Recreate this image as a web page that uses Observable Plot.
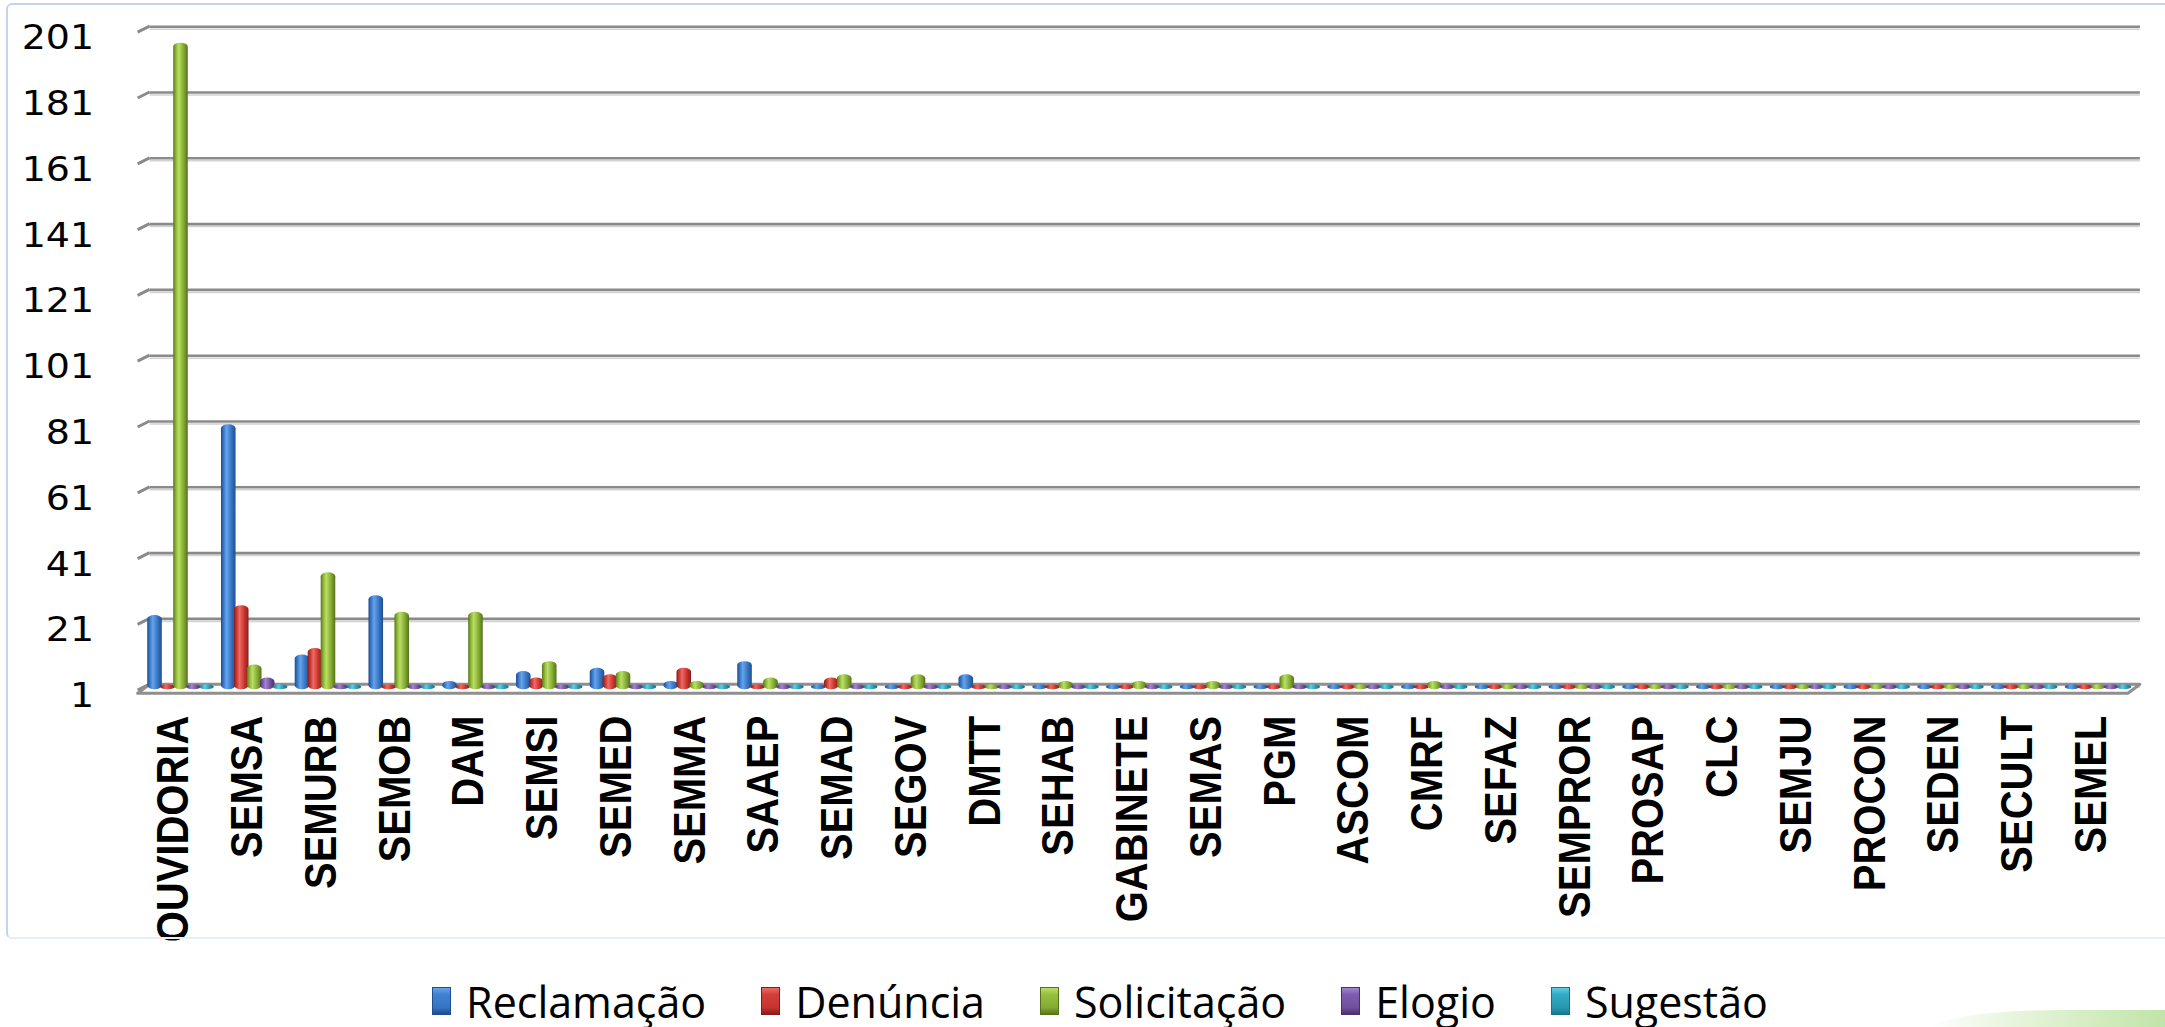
<!DOCTYPE html>
<html>
<head>
<meta charset="utf-8">
<script src="https://cdn.jsdelivr.net/npm/d3@7"></script>
<script src="https://cdn.jsdelivr.net/npm/@observablehq/plot@0.6"></script>
<style>
html, body { margin: 0; padding: 0; background: #fff; width: 2165px; height: 1027px; overflow: hidden; }
#wrap { position: relative; width: 2165px; height: 1027px; }
#chart { position: absolute; left: 0; top: 0; }
#box { position: absolute; left: 6px; top: 3px; width: 2200px; height: 932px; border: 2px solid #c3d5eb; border-bottom-color: #e6edf6; border-radius: 6px; pointer-events: none; }
#legend { position: absolute; left: 0; top: 964px; width: 2165px; height: 74px; display: flex; justify-content: center; align-items: center; padding-left: 35px; box-sizing: border-box; font-family: "Open Sans", "Liberation Sans", sans-serif; font-size: 43px; color: #000; }
.item { display: flex; align-items: center; margin: 0 27.5px; }
.sw { width: 19px; height: 28px; margin-right: 15px; box-sizing: border-box; }
#deco { position: absolute; left: 1930px; top: 1010px; width: 260px; height: 40px; border-radius: 50% 0 0 0; background: linear-gradient(90deg, rgba(255,255,255,0) 0%, #e3f3d6 30%, #c2e5a8 70%, #a9d98a 100%); opacity: 0.8; }
</style>
</head>
<body>
<div id="wrap">
  <div id="chart"></div>
  <div id="box"></div>
  <div id="legend"></div>
  <div id="deco"></div>
</div>
<script>
// ---- data ----
const categories = ["OUVIDORIA","SEMSA","SEMURB","SEMOB","DAM","SEMSI","SEMED","SEMMA","SAAEP","SEMAD","SEGOV","DMTT","SEHAB","GABINETE","SEMAS","PGM","ASCOM","CMRF","SEFAZ","SEMPROR","PROSAP","CLC","SEMJU","PROCON","SEDEN","SECULT","SEMEL"];
const seriesNames = ["Reclamação","Denúncia","Solicitação","Elogio","Sugestão"];
const reclamacao  = [22,80,10,28,2,5,6,2,8,1,1,4,1,0,0,0,0,0,0,0,1,0,0,1,0,0,0];
const denuncia    = [0,25,12,0,0,3,4,6,0,3,0,1,1,1,1,0,0,0,0,1,0,0,0,0,0,0,0];
const solicitacao = [196,7,35,23,23,8,5,2,3,4,4,0,2,2,2,4,1,2,1,0,0,0,0,0,0,0,0];
const elogio      = [0,3,0,0,0,0,0,0,0,0,0,0,0,0,0,0,0,0,0,0,0,0,0,0,0,0,0];
const sugestao    = [0,0,0,0,0,0,0,0,0,0,1,0,0,0,0,0,0,0,0,0,0,0,0,0,0,0,0];
const yTicks = [1,21,41,61,81,101,121,141,161,181,201];

// ---- styles ----
const seriesGradients = [
  ["#1d4c8c","#3f82d2","#66a3ea","#3674c2","#1f4f8c"],
  ["#8a1d1a","#d23f39","#ee6b63","#c7332e","#861c19"],
  ["#5a771d","#95c03b","#bade66","#84aa33","#56711c"],
  ["#4b326e","#7f5cb0","#a386cd","#6f509d","#472f68"],
  ["#17798e","#33aac6","#63cde3","#2897b1","#167186"]
];
const gradOffsets = [0, 0.22, 0.38, 0.72, 1];

const W = 2165, H = 937;
const mL = 143.6, mR = 30.1, mT = 26.2, mB = 252.8;
const padIn = 0.12;
const step = (W - mL - mR) / categories.length;
const sub = step * (1 - padIn) / seriesNames.length;
const overlap = 0.8;

const seriesValues = [reclamacao, denuncia, solicitacao, elogio, sugestao];
const rows = categories.flatMap((c, i) =>
  seriesNames.map((s, k) => ({category: c, series: s, k, value: seriesValues[k][i]})));

function defsMark() {
  const defs = d3.create("svg:defs");
  seriesGradients.forEach((stops, k) => {
    const lg = defs.append("linearGradient").attr("id", "cyl" + k)
      .attr("x1", 0).attr("x2", 1).attr("y1", 0).attr("y2", 0);
    stops.forEach((c, j) => lg.append("stop").attr("offset", gradOffsets[j]).attr("stop-color", c));
  });
  return defs.node();
}

function wallMark(index, scales, values, dims) {
  const y = scales.y;
  const xl = dims.marginLeft, xr = dims.width - dims.marginRight;
  const g = d3.create("svg:g");
  for (const t of yTicks) {
    g.append("line").attr("x1", xl - 6).attr("y1", y(t) + 6).attr("x2", xl + 6).attr("y2", y(t))
      .attr("stroke", "#8a8a8a").attr("stroke-width", 3);
  }
  const yb = y(yTicks[0]);
  g.append("path")
    .attr("d", `M${xl + 6},${yb} L${xr + 5},${yb} L${xr - 7},${yb + 9} L${xl - 6},${yb + 9} Z`)
    .attr("fill", "#fff").attr("stroke", "#8f8f8f").attr("stroke-width", 3).attr("stroke-linejoin", "round");
  return g.node();
}

const marks = [
  defsMark,
  Plot.ruleY(yTicks, {stroke: "#d2d2d2", strokeWidth: 1.5, dy: 2.5, insetLeft: 6, insetRight: -5}),
  Plot.ruleY(yTicks, {stroke: "#8a8a8a", strokeWidth: 2.6, insetLeft: 6, insetRight: -5}),
  wallMark,
  ...seriesNames.map((s, k) => Plot.barY(rows.filter(d => d.k === k), {
    x: "category", y1: 1, y2: "value",
    fill: `url(#cyl${k})`,
    insetLeft: k * sub - overlap, insetRight: (seriesNames.length - 1 - k) * sub - overlap,
    insetBottom: -5, rx: 7, ry: 4
  })),
  Plot.axisY({ticks: yTicks, tickSize: 0, tickPadding: 50, dy: 12, fontSize: 33,
    fontFamily: "'DejaVu Sans', Verdana, sans-serif", fill: "#000", label: null}),
  Plot.axisX({tickRotate: -90, tickSize: 0, tickPadding: 31, dx: -7, fontSize: 40, fontWeight: "bold",
    fontFamily: "'Liberation Sans', Arial, sans-serif", fill: "#000", label: null})
];

const chart = Plot.plot({
  width: W, height: H,
  marginLeft: mL, marginRight: mR, marginTop: mT, marginBottom: mB,
  style: {overflow: "visible", background: "transparent"},
  x: {domain: categories, paddingInner: padIn, paddingOuter: padIn / 2, round: false, label: null},
  y: {domain: [yTicks[0], yTicks[yTicks.length - 1]], clamp: true, label: null},
  marks
});
document.getElementById("chart").appendChild(chart);

// widen the glyphs slightly, as in the source chart
chart.querySelectorAll('g[aria-label="x-axis tick label"] text').forEach(t => {
  const tr = t.getAttribute("transform") || "";
  t.setAttribute("transform", tr + " scale(1,1.12)");
});
chart.querySelectorAll('g[aria-label="y-axis tick label"] text').forEach(t => {
  const tr = t.getAttribute("transform") || "";
  t.setAttribute("transform", tr + " scale(1.15,1)");
});

// legend
const legend = document.getElementById("legend");
seriesNames.forEach((s, k) => {
  const it = document.createElement("div");
  it.className = "item";
  const sw = document.createElement("div");
  sw.className = "sw";
  const st = seriesGradients[k];
  sw.style.background = `linear-gradient(180deg, ${st[2]} 0%, ${st[1]} 25%, ${st[3]} 75%, ${st[0]} 100%)`;
  sw.style.border = `1px solid ${st[4]}`;
  const tx = document.createElement("span");
  tx.textContent = s;
  it.appendChild(sw); it.appendChild(tx);
  legend.appendChild(it);
});
</script>
</body>
</html>
